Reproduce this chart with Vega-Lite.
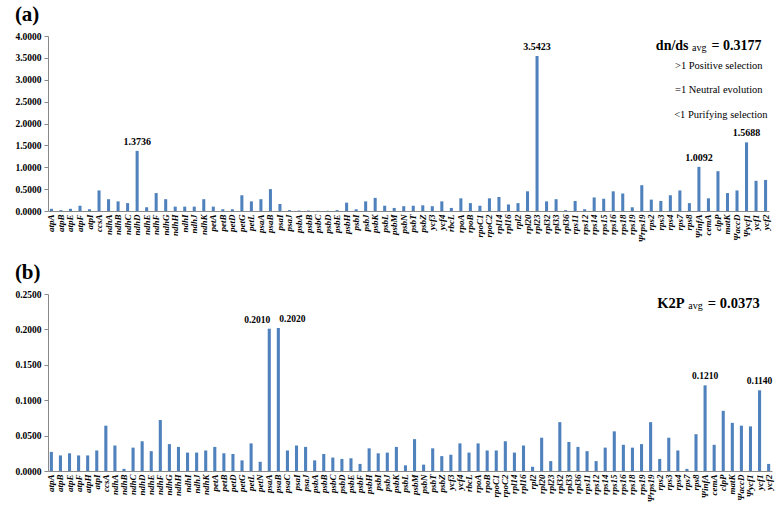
{
  "$schema": "https://vega.github.io/schema/vega-lite/v6.json",
  "padding": {"left": 14, "top": 4, "right": 2, "bottom": 0},
  "background": "white",
  "config": {
    "view": {"stroke": null},
    "font": "Liberation Serif",
    "title": {"font": "Liberation Serif", "fontSize": 21, "fontWeight": "bold", "anchor": "start", "frame": "bounds", "offset": 6, "color": "#000"},
    "axis": {"labelFont": "Liberation Serif", "labelFontWeight": "bold", "labelColor": "#000", "domainColor": "#888", "tickColor": "#888", "grid": false, "title": null},
    "axisX": {"labelAngle": -90, "labelFontStyle": "italic", "labelFontSize": 9, "ticks": false, "labelPadding": 3},
    "axisY": {"labelFontSize": 9.5, "tickSize": 4, "format": ".4f", "labelPadding": 3},
    "concat": {"spacing": 20}
  },
  "datasets": {
    "a": [
      {"gene": "atpA", "value": 0.05}, {"gene": "atpB", "value": 0.02}, {"gene": "atpE", "value": 0.05}, {"gene": "atpF", "value": 0.12}, {"gene": "atpI", "value": 0.04},
      {"gene": "ccsA", "value": 0.47}, {"gene": "ndhA", "value": 0.27}, {"gene": "ndhB", "value": 0.22}, {"gene": "ndhC", "value": 0.18}, {"gene": "ndhD", "value": 1.3736},
      {"gene": "ndhE", "value": 0.085}, {"gene": "ndhF", "value": 0.41}, {"gene": "ndhG", "value": 0.27}, {"gene": "ndhH", "value": 0.10}, {"gene": "ndhI", "value": 0.10},
      {"gene": "ndhJ", "value": 0.10}, {"gene": "ndhK", "value": 0.27}, {"gene": "petA", "value": 0.10}, {"gene": "petB", "value": 0.04}, {"gene": "petD", "value": 0.04},
      {"gene": "petG", "value": 0.36}, {"gene": "petL", "value": 0.22}, {"gene": "psaA", "value": 0.27}, {"gene": "psaB", "value": 0.50}, {"gene": "psaI", "value": 0.16},
      {"gene": "psaJ", "value": 0.02}, {"gene": "psbA", "value": 0.01}, {"gene": "psbB", "value": 0.01}, {"gene": "psbC", "value": 0.005}, {"gene": "psbD", "value": 0.005},
      {"gene": "psbE", "value": 0.02}, {"gene": "psbH", "value": 0.19}, {"gene": "psbI", "value": 0.04}, {"gene": "psbJ", "value": 0.22}, {"gene": "psbK", "value": 0.30},
      {"gene": "psbL", "value": 0.12}, {"gene": "psbM", "value": 0.07}, {"gene": "psbN", "value": 0.11}, {"gene": "psbT", "value": 0.12}, {"gene": "psbZ", "value": 0.13},
      {"gene": "ycf3", "value": 0.11}, {"gene": "ycf4", "value": 0.22}, {"gene": "rbcL", "value": 0.07}, {"gene": "rpoA", "value": 0.29}, {"gene": "rpoB", "value": 0.18},
      {"gene": "rpoC1", "value": 0.12}, {"gene": "rpoC2", "value": 0.29}, {"gene": "rpl14", "value": 0.32}, {"gene": "rpl16", "value": 0.15}, {"gene": "rpl2", "value": 0.18},
      {"gene": "rpl20", "value": 0.45}, {"gene": "rpl23", "value": 3.5423}, {"gene": "rpl32", "value": 0.22}, {"gene": "rpl33", "value": 0.27}, {"gene": "rpl36", "value": 0.02},
      {"gene": "rps11", "value": 0.23}, {"gene": "rps12", "value": 0.04}, {"gene": "rps14", "value": 0.31}, {"gene": "rps15", "value": 0.28}, {"gene": "rps16", "value": 0.45},
      {"gene": "rps18", "value": 0.40}, {"gene": "rps19", "value": 0.085}, {"gene": "Ψrps19", "value": 0.59}, {"gene": "rps2", "value": 0.26}, {"gene": "rps3", "value": 0.23},
      {"gene": "rps4", "value": 0.36}, {"gene": "rps7", "value": 0.47}, {"gene": "rps8", "value": 0.18}, {"gene": "ΨinfA", "value": 1.0092}, {"gene": "cemA", "value": 0.29},
      {"gene": "clpP", "value": 0.91}, {"gene": "matK", "value": 0.41}, {"gene": "ΨaccD", "value": 0.47}, {"gene": "Ψycf1", "value": 1.5688}, {"gene": "ycf1", "value": 0.69},
      {"gene": "ycf2", "value": 0.71}
    ],
    "b": [
      {"gene": "atpA", "value": 0.027}, {"gene": "atpB", "value": 0.022}, {"gene": "atpE", "value": 0.025}, {"gene": "atpF", "value": 0.022}, {"gene": "atpH", "value": 0.022},
      {"gene": "atpI", "value": 0.029}, {"gene": "ccsA", "value": 0.064}, {"gene": "ndhA", "value": 0.036}, {"gene": "ndhB", "value": 0.003}, {"gene": "ndhC", "value": 0.033},
      {"gene": "ndhD", "value": 0.042}, {"gene": "ndhE", "value": 0.028}, {"gene": "ndhF", "value": 0.072}, {"gene": "ndhG", "value": 0.038}, {"gene": "ndhH", "value": 0.034},
      {"gene": "ndhI", "value": 0.026}, {"gene": "ndhJ", "value": 0.026}, {"gene": "ndhK", "value": 0.029}, {"gene": "petA", "value": 0.034}, {"gene": "petB", "value": 0.025},
      {"gene": "petD", "value": 0.024}, {"gene": "petG", "value": 0.015}, {"gene": "petL", "value": 0.039}, {"gene": "petN", "value": 0.013}, {"gene": "psaA", "value": 0.2010},
      {"gene": "psaB", "value": 0.2020}, {"gene": "psaC", "value": 0.029}, {"gene": "psaI", "value": 0.036}, {"gene": "psaJ", "value": 0.034}, {"gene": "psbA", "value": 0.015},
      {"gene": "psbB", "value": 0.024}, {"gene": "psbC", "value": 0.019}, {"gene": "psbD", "value": 0.017}, {"gene": "psbE", "value": 0.018}, {"gene": "psbF", "value": 0.010},
      {"gene": "psbH", "value": 0.032}, {"gene": "psbI", "value": 0.025}, {"gene": "psbJ", "value": 0.026}, {"gene": "psbK", "value": 0.034}, {"gene": "psbL", "value": 0.008},
      {"gene": "psbM", "value": 0.045}, {"gene": "psbN", "value": 0.009}, {"gene": "psbT", "value": 0.032}, {"gene": "psbZ", "value": 0.021}, {"gene": "ycf3", "value": 0.023},
      {"gene": "ycf4", "value": 0.039}, {"gene": "rbcL", "value": 0.026}, {"gene": "rpoA", "value": 0.039}, {"gene": "rpoB", "value": 0.029}, {"gene": "rpoC1", "value": 0.029},
      {"gene": "rpoC2", "value": 0.042}, {"gene": "rpl14", "value": 0.026}, {"gene": "rpl16", "value": 0.036}, {"gene": "rpl2", "value": 0.006}, {"gene": "rpl20", "value": 0.047},
      {"gene": "rpl23", "value": 0.014}, {"gene": "rpl32", "value": 0.069}, {"gene": "rpl33", "value": 0.041}, {"gene": "rpl36", "value": 0.034}, {"gene": "rps11", "value": 0.028},
      {"gene": "rps12", "value": 0.014}, {"gene": "rps14", "value": 0.033}, {"gene": "rps15", "value": 0.056}, {"gene": "rps16", "value": 0.037}, {"gene": "rps18", "value": 0.033},
      {"gene": "rps19", "value": 0.038}, {"gene": "Ψrps19", "value": 0.069}, {"gene": "rps2", "value": 0.017}, {"gene": "rps3", "value": 0.047}, {"gene": "rps4", "value": 0.029},
      {"gene": "rps7", "value": 0.003}, {"gene": "rps8", "value": 0.052}, {"gene": "ΨinfA", "value": 0.1210}, {"gene": "cemA", "value": 0.037}, {"gene": "clpP", "value": 0.085},
      {"gene": "matK", "value": 0.068}, {"gene": "ΨaccD", "value": 0.064}, {"gene": "Ψycf1", "value": 0.063}, {"gene": "ycf1", "value": 0.1140}, {"gene": "ycf2", "value": 0.010}
    ]
  },
  "vconcat": [
    {
      "title": "(a)",
      "width": 721,
      "height": 175,
      "data": {"name": "a"},
      "encoding": {
        "x": {"field": "gene", "type": "nominal", "sort": null, "scale": {"paddingInner": 0.68, "paddingOuter": 0.2}, "axis": {}},
        "y": {"field": "value", "type": "quantitative", "scale": {"domain": [0, 4]}, "axis": {"values": [0, 0.5, 1, 1.5, 2, 2.5, 3, 3.5, 4]}}
      },
      "layer": [
        {"mark": {"type": "bar", "color": "#4F81BD"}},
        {
          "transform": [{"filter": "datum.value > 1"}],
          "mark": {"type": "text", "baseline": "bottom", "dy": -4, "fontSize": 10, "fontWeight": "bold", "font": "Liberation Serif", "color": "#000"},
          "encoding": {"text": {"field": "value", "type": "quantitative", "format": ".4f"}}
        },
        {
          "transform": [{"filter": "datum.gene == 'ycf2'"}],
          "mark": {"type": "text", "align": "right", "baseline": "middle", "dx": -4, "fontSize": 14, "fontWeight": "bold", "font": "Liberation Serif", "color": "#000"},
          "encoding": {"y": {"datum": 3.77}, "text": {"value": "= 0.3177"}}
        },
        {
          "transform": [{"filter": "datum.gene == 'ycf2'"}],
          "mark": {"type": "text", "align": "right", "baseline": "middle", "dx": -59, "dy": 2, "fontSize": 10, "font": "Liberation Serif", "color": "#000"},
          "encoding": {"y": {"datum": 3.77}, "text": {"value": "avg"}}
        },
        {
          "transform": [{"filter": "datum.gene == 'ycf2'"}],
          "mark": {"type": "text", "align": "right", "baseline": "middle", "dx": -77, "fontSize": 14, "fontWeight": "bold", "font": "Liberation Serif", "color": "#000"},
          "encoding": {"y": {"datum": 3.77}, "text": {"value": "dn/ds"}}
        },
        {
          "transform": [{"filter": "datum.gene == 'ycf2'"}],
          "mark": {"type": "text", "align": "right", "baseline": "middle", "dx": -3, "fontSize": 10.5, "font": "Liberation Serif", "color": "#000"},
          "encoding": {"y": {"datum": 3.31}, "text": {"value": ">1 Positive selection"}}
        },
        {
          "transform": [{"filter": "datum.gene == 'ycf2'"}],
          "mark": {"type": "text", "align": "right", "baseline": "middle", "dx": -3, "fontSize": 10.5, "font": "Liberation Serif", "color": "#000"},
          "encoding": {"y": {"datum": 2.77}, "text": {"value": "=1 Neutral evolution"}}
        },
        {
          "transform": [{"filter": "datum.gene == 'ycf2'"}],
          "mark": {"type": "text", "align": "right", "baseline": "middle", "dx": 2, "fontSize": 10.5, "font": "Liberation Serif", "color": "#000"},
          "encoding": {"y": {"datum": 2.2}, "text": {"value": "<1 Purifying selection"}}
        }
      ]
    },
    {
      "title": "(b)",
      "width": 724,
      "height": 177,
      "data": {"name": "b"},
      "encoding": {
        "x": {"field": "gene", "type": "nominal", "sort": null, "scale": {"paddingInner": 0.66, "paddingOuter": 0.2}, "axis": {}},
        "y": {"field": "value", "type": "quantitative", "scale": {"domain": [0, 0.25]}, "axis": {"values": [0, 0.05, 0.1, 0.15, 0.2, 0.25]}}
      },
      "layer": [
        {"mark": {"type": "bar", "color": "#4F81BD"}},
        {
          "transform": [{"filter": "datum.value > 0.1 && datum.value < 0.2"}],
          "mark": {"type": "text", "baseline": "bottom", "dy": -4, "fontSize": 9.5, "fontWeight": "bold", "font": "Liberation Serif", "color": "#000"},
          "encoding": {"text": {"field": "value", "type": "quantitative", "format": ".4f"}}
        },
        {
          "transform": [{"filter": "datum.gene == 'psaA'"}],
          "mark": {"type": "text", "baseline": "bottom", "align": "right", "dx": 1, "dy": -4, "fontSize": 9.5, "fontWeight": "bold", "font": "Liberation Serif", "color": "#000"},
          "encoding": {"text": {"field": "value", "type": "quantitative", "format": ".4f"}}
        },
        {
          "transform": [{"filter": "datum.gene == 'psaB'"}],
          "mark": {"type": "text", "baseline": "bottom", "align": "left", "dx": 1, "dy": -4, "fontSize": 9.5, "fontWeight": "bold", "font": "Liberation Serif", "color": "#000"},
          "encoding": {"text": {"field": "value", "type": "quantitative", "format": ".4f"}}
        },
        {
          "transform": [{"filter": "datum.gene == 'ycf2'"}],
          "mark": {"type": "text", "align": "right", "baseline": "middle", "dx": -9, "fontSize": 14.5, "fontWeight": "bold", "font": "Liberation Serif", "color": "#000"},
          "encoding": {"y": {"datum": 0.2363}, "text": {"value": "= 0.0373"}}
        },
        {
          "transform": [{"filter": "datum.gene == 'ycf2'"}],
          "mark": {"type": "text", "align": "right", "baseline": "middle", "dx": -66, "dy": 2, "fontSize": 10, "font": "Liberation Serif", "color": "#000"},
          "encoding": {"y": {"datum": 0.2363}, "text": {"value": "avg"}}
        },
        {
          "transform": [{"filter": "datum.gene == 'ycf2'"}],
          "mark": {"type": "text", "align": "right", "baseline": "middle", "dx": -84, "fontSize": 14.5, "fontWeight": "bold", "font": "Liberation Serif", "color": "#000"},
          "encoding": {"y": {"datum": 0.2363}, "text": {"value": "K2P"}}
        }
      ]
    }
  ]
}
